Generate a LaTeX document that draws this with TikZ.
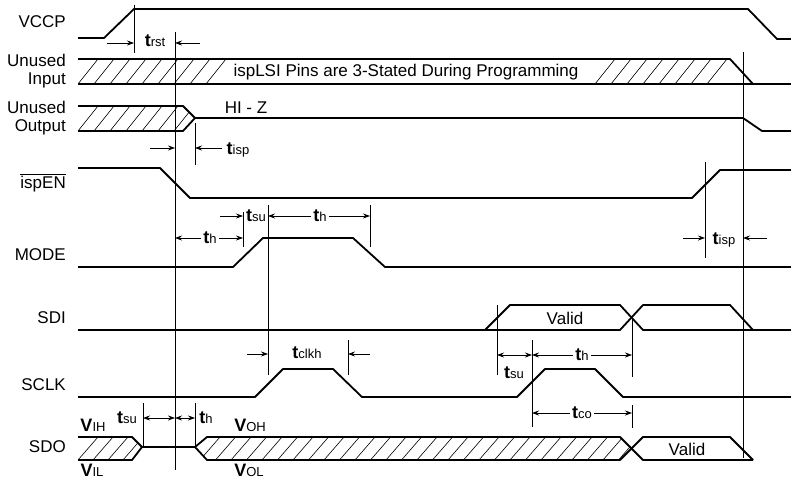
\documentclass[tikz,border=0pt]{standalone}
\usepackage{fontspec}
\setmainfont{Liberation Sans}
\usetikzlibrary{arrows.meta}
\newcommand{\tsym}[1]{{\fontsize{18}{18}\selectfont\bfseries t}{\fontsize{13}{13}\selectfont #1}}
\newcommand{\vsym}[1]{{\fontsize{18}{18}\selectfont\bfseries V}{\fontsize{13}{13}\selectfont #1}}
\tikzset{
  wave/.style    ={line width=1.8pt, line join=round},
  guide/.style   ={line width=0.7pt},
  hatchline/.style={line width=0.6pt},
  dim/.style     ={{Stealth[length=7pt,width=5pt]}-{Stealth[length=7pt,width=5pt]}, line width=0.7pt},
  dimin/.style   ={-{Stealth[length=7pt,width=5pt]}, line width=0.7pt},
  signame/.style ={anchor=east, align=right, inner sep=0pt, font=\fontsize{17}{18}\selectfont},
  txt/.style     ={inner sep=1pt, font=\fontsize{17}{18}\selectfont},
  tlabel/.style  ={inner sep=2pt, fill=white},
}
\begin{document}
\begin{tikzpicture}[x=1pt,y=-1pt]
\useasboundingbox (0,0) rectangle (791,481);
% --- signal names ---
\node[signame] (nvccp) at (66,22)  {VCCP};
\node[signame] (nin)   at (66,71)  {Unused\\Input};
\node[signame] (nout)  at (66,118) {Unused\\Output};
\node[signame] (nen)   at (66,183) {$\overline{\hbox{ispEN}}$};
\node[signame] (nmode) at (66,255) {MODE};
\node[signame] (nsdi)  at (66,318) {SDI};
\node[signame] (nsclk) at (66,385) {SCLK};
\node[signame] (nsdo)  at (66,447) {SDO};
% --- waveforms ---
\draw[wave] (78,38) -- (104,38) -- (134,9) -- (748,9) -- (777,39) -- (791,39);
\draw[wave] (78,59) -- (730,59) -- (753,84);
\draw[wave] (78,84) -- (791,84);
\draw[wave] (78,106) -- (183,106) -- (195,118) -- (743,118) -- (762,131) -- (791,131);
\draw[wave] (78,131) -- (183,131) -- (195,118);
\draw[wave] (78,168) -- (160,168) -- (190,198) -- (692,198) -- (720,170) -- (791,170);
\draw[wave] (78,267) -- (233,267) -- (263,238) -- (353,238) -- (385,267) -- (791,267);
\draw[wave] (78,330) -- (485,330) -- (510,305) -- (620,305) -- (643,330) -- (791,330);
\draw[wave] (485,330) -- (620,330) -- (643,305) -- (730,305) -- (753,330);
\draw[wave] (78,397) -- (255,397) -- (283,369) -- (333,369) -- (362,397) -- (517,397)
  -- (545,369) -- (595,369) -- (623,397) -- (791,397);
\draw[wave] (78,437) -- (132,437) -- (142,447) -- (195,447) -- (207,437) -- (620,437) -- (643,460) -- (753,460);
\draw[wave] (78,460) -- (132,460) -- (142,447);
\draw[wave] (195,447) -- (207,460) -- (620,460) -- (643,437) -- (730,437) -- (753,460);
% --- hatching ---
\begin{scope}
  \clip (78,59) -- (730,59) -- (753,84) -- (78,84) -- cycle;
  \foreach \x in {78,94,...,206} \draw[hatchline] (\x,84) -- ++(20,-25);
  \foreach \x in {595,611,...,710} \draw[hatchline] (\x,84) -- ++(20,-25);
\end{scope}
\begin{scope}
  \clip (78,106) -- (183,106) -- (195,118) -- (183,131) -- (78,131) -- cycle;
  \foreach \x in {78,94,...,190} \draw[hatchline] (\x,131) -- ++(20,-25);
\end{scope}
\begin{scope}
  \clip (78,437) -- (132,437) -- (142,447) -- (132,460) -- (78,460) -- cycle;
  \foreach \x in {78,93,...,140} \draw[hatchline] (\x,460) -- ++(20,-23);
\end{scope}
\begin{scope}
  \clip (195,447) -- (207,437) -- (620,437) -- (632,448) -- (620,460) -- (207,460) -- cycle;
  \foreach \x in {200,215.5,...,630} \draw[hatchline] (\x,460) -- ++(20,-23);
\end{scope}
% --- guide lines ---
\foreach \x/\a/\b in {134/5/53, 175/32/470, 195/123/165, 743/52/458, 705/162/258,
  243/212/247, 268/205/375, 370/205/247, 348/340/375, 497/305/375, 532/340/427,
  632/318/377, 632/405/428, 143/403/447, 195/403/447}
  \draw[guide] (\x,\a) -- (\x,\b);
% --- texts in the waves ---
\node[txt] (pins)  at (406,72)  {ispLSI Pins are 3-Stated During Programming};
\node[txt] (hiz)   at (246,108) {HI - Z};
\node[txt] (vsdi)  at (565,318) {Valid};
\node[txt] (vsdo)  at (687,449) {Valid};
% --- timing marks ---
\draw[dimin] (107,43) -- (134,43);
\draw[dimin] (200,43) -- (175,43);
\node[txt] (trst) at (155,41) {\tsym{rst}};
\draw[dimin] (150,148) -- (175,148);
\draw[dimin] (222,148) -- (195,148);
\node[txt] (tisp1) at (238,150) {\tsym{isp}};
\draw[dimin] (683,238) -- (705,238);
\draw[dimin] (767,238) -- (743,238);
\node[txt] (tisp2) at (724,240) {\tsym{isp}};
\draw[dim] (175,238) -- (243,238);
\node[txt,tlabel] (th1) at (210,238) {\tsym{h}};
\draw[dimin] (220,216) -- (243,216);
\node[txt] (tsu1) at (256,216) {\tsym{su}};
\draw[dim] (268,216) -- (370,216);
\node[txt,tlabel] (th2) at (320,216) {\tsym{h}};
\draw[dimin] (247,354) -- (268,354);
\draw[dimin] (370,354) -- (348,354);
\node[txt] (tclkh) at (307,353) {\tsym{clkh}};
\draw[dim] (497,355) -- (532,355);
\node[txt] (tsu2) at (514,373) {\tsym{su}};
\draw[dim] (532,355) -- (632,355);
\node[txt,tlabel] (th3) at (582,355) {\tsym{h}};
\draw[dim] (532,413) -- (632,413);
\node[txt,tlabel] (tco) at (582,413) {\tsym{co}};
\draw[dim] (143,418) -- (175,418);
\draw[dim] (175,418) -- (195,418);
\node[txt] (tsu3) at (127,418) {\tsym{su}};
\node[txt] (th4)  at (206,418) {\tsym{h}};
\node[txt] (vih) at (93,425) {\vsym{IH}};
\node[txt] (vil) at (92,470) {\vsym{IL}};
\node[txt] (voh) at (250,425) {\vsym{OH}};
\node[txt] (vol) at (249,470) {\vsym{OL}};
\end{tikzpicture}
\end{document}
